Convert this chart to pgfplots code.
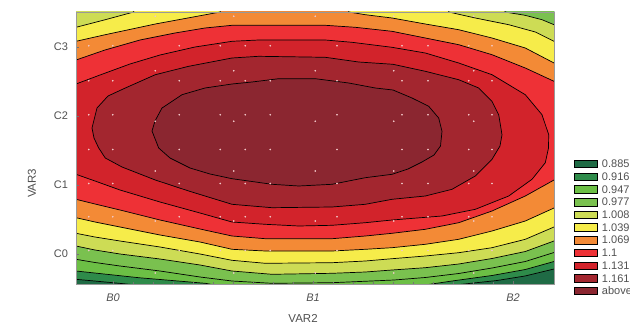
\documentclass[border=0pt]{standalone}
\usepackage{pgfplots}
\pgfplotsset{compat=1.18}
\usepackage{fontspec}
\setmainfont{Liberation Sans}
\definecolor{c0}{HTML}{1F6B45}
\definecolor{c1}{HTML}{2E8B4A}
\definecolor{c2}{HTML}{6CBF45}
\definecolor{c3}{HTML}{7AC14F}
\definecolor{c4}{HTML}{CDDC55}
\definecolor{c5}{HTML}{F6EC4A}
\definecolor{c6}{HTML}{F38A36}
\definecolor{c7}{HTML}{EE3136}
\definecolor{c8}{HTML}{D2232B}
\definecolor{c9}{HTML}{A3262F}
\definecolor{c10}{HTML}{8B2630}
\definecolor{txt}{HTML}{505050}
\definecolor{dot}{HTML}{F2C8C8}
\begin{document}
\begin{tikzpicture}
\useasboundingbox (0,0) rectangle (630bp,324bp);
\begin{axis}[
  at={(76bp,40bp)}, anchor=south west,
  width=478bp, height=272bp, scale only axis,
  xmin=76, xmax=554, ymin=12, ymax=284, y dir=reverse,
  axis on top,
  axis line style={draw=black!40, line width=0.4bp},
  xtick={113,313,513}, xticklabels={\textit{B0},\textit{B1},\textit{B2}},
  ytick={47,116,185,254}, yticklabels={C3,C2,C1,C0},
  minor x tick num=9,
  xtick pos=left, ytick pos=left,
  tick align=inside,
  major tick length=3bp, minor tick length=2bp,
  tick style={draw=black!55, line width=0.4bp},
  every tick label/.append style={font=\fontsize{11bp}{13bp}\selectfont, text=txt},
  xticklabel style={yshift=-6bp},
  yticklabel style={xshift=-4.5bp},
  xlabel={VAR2}, ylabel={VAR3},
  label style={font=\fontsize{11.5bp}{13bp}\selectfont, text=txt},
  xlabel style={at={(axis description cs:0.475,-0.125)}, anchor=center},
  ylabel style={at={(axis description cs:-0.092,0.37)}, anchor=center},
  legend style={at={(1.0418,0.456)}, anchor=north west, draw=none, fill=none,
    inner sep=0pt, outer sep=0pt, row sep=4.7bp,
    font=\fontsize{11bp}{11bp}\selectfont, text=txt,
    cells={anchor=west}, nodes={inner sep=0pt, text height=7.5bp, text depth=0bp}},
  legend image code/.code={\draw[#1, draw=black, line width=0.5bp] (0bp,-3.75bp) rectangle (23bp,3.75bp);},
  /tikz/every odd column/.append style={column sep=4.5bp},
]
\addplot[fill=c0, draw=none] coordinates {(60,0)(570,0)(570,300)(60,300)} -- cycle;
\addplot[fill=c1, draw=black, line width=0.7bp] coordinates {(60,279.3)(76,279.3)(105.3,282)(132,284.5)(132,300)(455,300)(455,285)(497,280.5)(525,276)(554,269)(570,269)(570,0)(60,0)} -- cycle;
\addplot[fill=c2, draw=black, line width=0.7bp] coordinates {(60,271)(76,271)(138.7,277.7)(205.3,283.3)(215,285)(215,300)(425,300)(425,285)(452,281)(492,275.5)(525.3,269.5)(554,261.5)(570,261.5)(570,0)(60,0)} -- cycle;
\addplot[fill=c3, draw=black, line width=0.7bp] coordinates {(60,259.3)(76,259.3)(95,262.5)(120,266)(160,271)(200,277)(232,281)(272,283.3)(332,282.7)(394,280)(425.3,277.5)(458.7,273.5)(492,268)(525.3,261.5)(554,252.5)(570,252.5)(570,0)(60,0)} -- cycle;
\addplot[fill=c4, draw=black, line width=0.7bp] coordinates {(60,246)(76,246)(95,250)(120,254)(160,259)(200,265)(232,271)(272,274.3)(332,273.3)(365.3,272)(392,270)(425.3,267.7)(458.7,264)(492,258.5)(525.3,251.5)(554,241)(570,241)(570,24.7)(554,24.7)(542,19.7)(525,15.3)(505,12)(505,0)(60,0)} -- cycle;
\addplot[fill=c5, draw=black, line width=0.7bp] coordinates {(60,233.3)(76,233.3)(95,237)(120,241)(160,247)(200,254)(232,260.3)(265.3,263.3)(332,262.7)(365.3,261)(392,258.7)(425.3,256)(458.7,252.7)(492,247.7)(525.3,239.3)(554,227)(570,227)(570,41.3)(554,41.3)(535.3,32)(508.7,24.7)(475.3,18)(448.7,12)(448.7,0)(133.7,0)(133.7,12)(105.3,19.7)(76,27.3)(60,27.3)} -- cycle;
\addplot[fill=c6, draw=black, line width=0.7bp] coordinates {(60,217.7)(76,217.7)(95,222)(120,227)(160,235)(200,242)(232,249.3)(265.3,251)(332,251)(365.3,249.3)(392,247.7)(425.3,244.3)(458.7,239.3)(492,231)(525.3,221)(554,208)(570,208)(570,63)(554,63)(525.3,48)(492,38)(458.7,29.7)(425.3,24)(392,18)(365.3,14.7)(348.7,12)(348.7,0)(220.3,0)(220.3,12)(155.3,24)(105.3,34.7)(76,41.3)(60,41.3)} -- cycle;
\addplot[fill=c7, draw=black, line width=0.7bp] coordinates {(60,199.3)(76,199.3)(95,204)(120,210)(160,220)(200,229)(232,236)(265.3,238.7)(332,238.7)(365.3,236)(392,233.3)(425.3,229.3)(458.7,222.7)(492,211)(525.3,196)(554,180)(570,180)(570,81.3)(554,81.3)(525.3,68)(492,54.7)(458.7,44.7)(425.3,38)(392,31.3)(355.3,27.3)(325.3,25.3)(265.3,25.3)(232,25.3)(205,28)(175,33)(140,40)(105,50)(76,60)(60,60)} -- cycle;
\addplot[fill=c8, draw=black, line width=0.7bp] coordinates {(60,174.3)(76,174.3)(95,181)(120,190)(160,202)(200,213)(232,222)(265.3,224.3)(298.7,226)(332,225.3)(365.3,222.7)(392,220)(442,216)(475.3,209.3)(508.7,196)(532,179.3)(545.3,162.7)(548.5,148)(548.7,134.7)(542,114.7)(525.3,94.7)(492,74.7)(458.7,63)(425.3,53)(392,47.3)(352,42.3)(325.3,40)(258.7,40)(232,41.3)(195,47)(160,55)(130,64)(100,75)(76,84)(60,84)} -- cycle;
\addplot[fill=c9, draw=black, line width=0.7bp] coordinates {(92,128)(97,108)(108,96)(125.3,88)(155.3,74.7)(188.7,66.3)(232,58)(258.7,56.3)(325.3,57.3)(358.7,62)(393,64.3)(425.3,71.3)(458.7,79.7)(478.7,88)(492,101.3)(498.7,114.7)(502,134.7)(500,146)(492,159.3)(475.3,176)(452,189.3)(425.3,196)(392,199.3)(365.3,204.3)(332,207)(272,207.7)(232,204.3)(188.7,191)(155.3,180)(122,167)(105.3,158)(98.7,148)(94,138)} -- cycle;
\addplot[fill=c10, draw=black, line width=0.7bp] coordinates {(152,131)(155,121)(162,108)(182,94.7)(205,88)(232,84)(252,82)(278.7,78.7)(315.3,78.7)(348.7,83)(375.3,88)(393,90)(412,98)(428.7,106.3)(438.7,118)(442,131.3)(440.5,146)(434,155)(422,162)(408,169)(392,174.3)(365.3,177.7)(332,184.3)(298.7,186)(272,184.3)(232,178.7)(210,174)(190,168)(170,158)(158.7,148)} -- cycle;
\addplot[forget plot, only marks, mark=*, mark size=0.6bp, color=dot, mark options={draw=dot, fill=dot}] coordinates {
(155.3,16.3)(233.7,16.3)(315.3,16.3)(393.7,16.3)(473.7,16.3)
(155.3,70.7)(233.7,70.7)(315.3,70.7)(393.7,70.7)(473.7,70.7)
(155.3,121.3)(233.7,121.3)(315.3,121.3)(393.7,121.3)(473.7,121.3)
(155.3,171)(233.7,171)(315.3,171)(393.7,171)(473.7,171)
(155.3,221)(233.7,221)(315.3,221)(393.7,221)(473.7,221)
(155.3,273)(233.7,273)(315.3,273)(393.7,273)(473.7,273)
(88.7,45.7)(112.7,45.7)(179.3,45.7)(220.3,45.7)(245.3,45.7)(270.3,45.7)(337,45.7)(402,45.7)(428,45.7)(468.7,45.7)(492,45.7)
(88.7,80.7)(112.7,80.7)(179.3,80.7)(220.3,80.7)(245.3,80.7)(270.3,80.7)(337,80.7)(402,80.7)(428,80.7)(468.7,80.7)(492,80.7)
(88.7,114.7)(112.7,114.7)(179.3,114.7)(220.3,114.7)(245.3,114.7)(270.3,114.7)(337,114.7)(402,114.7)(428,114.7)(468.7,114.7)(492,114.7)
(88.7,149.5)(112.7,149.5)(179.3,149.5)(220.3,149.5)(245.3,149.5)(270.3,149.5)(337,149.5)(402,149.5)(428,149.5)(468.7,149.5)(492,149.5)
(88.7,183.5)(112.7,183.5)(179.3,183.5)(220.3,183.5)(245.3,183.5)(270.3,183.5)(337,183.5)(402,183.5)(428,183.5)(468.7,183.5)(492,183.5)
(88.7,216.7)(112.7,216.7)(179.3,216.7)(220.3,216.7)(245.3,216.7)(270.3,216.7)(337,216.7)(402,216.7)(428,216.7)(468.7,216.7)(492,216.7)
(88.7,250.5)(112.7,250.5)(179.3,250.5)(220.3,250.5)(245.3,250.5)(270.3,250.5)(337,250.5)(402,250.5)(428,250.5)(468.7,250.5)(492,250.5)
};
\legend{0.885,0.916,0.947,0.977,1.008,1.039,1.069,1.1,1.131,1.161,above}
\end{axis}
\end{tikzpicture}
\end{document}
